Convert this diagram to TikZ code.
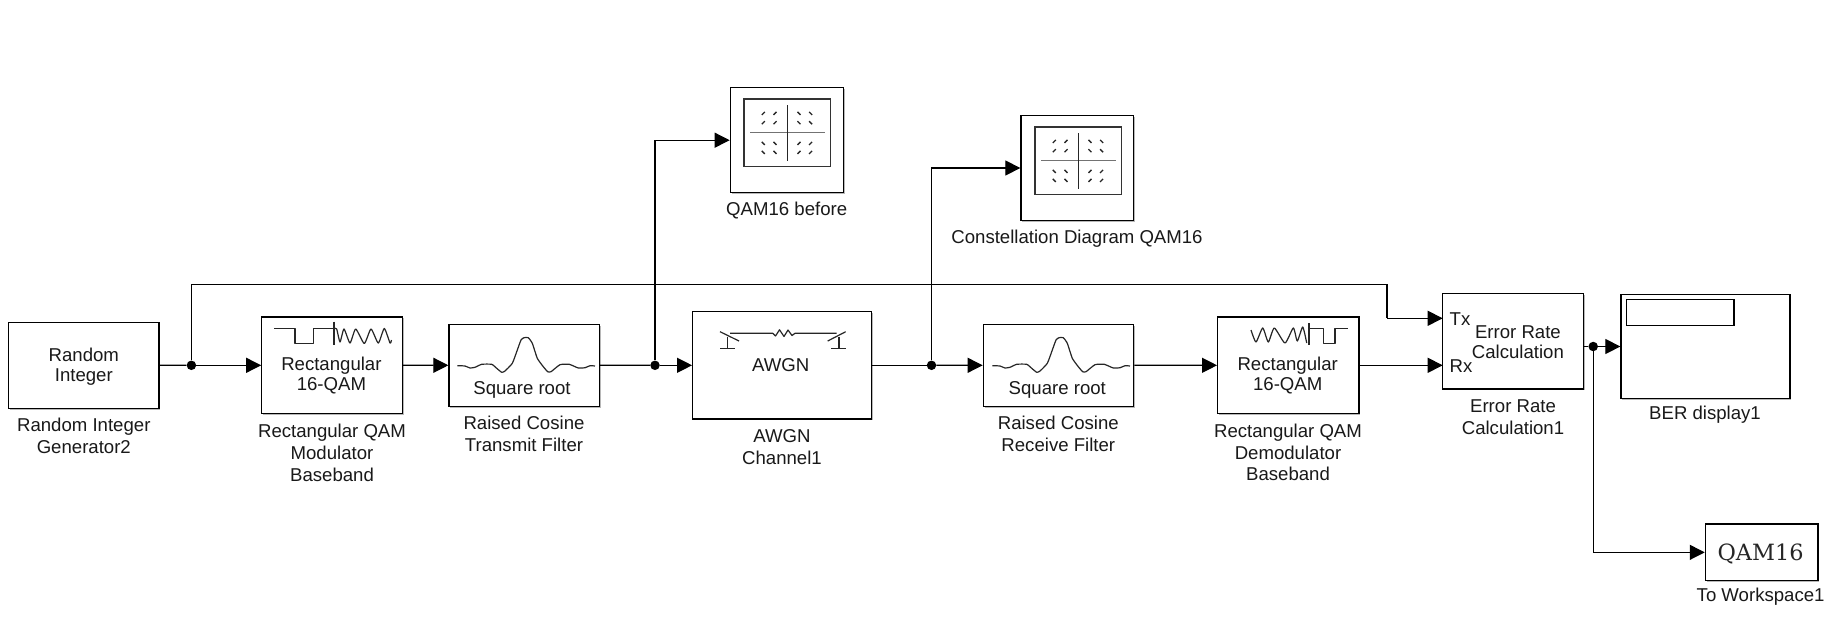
\documentclass[tikz,border=0pt]{standalone}
\usepackage{fontspec}
\setmainfont{Liberation Sans}
\newfontfamily\wsfont{DejaVu Serif}
\usetikzlibrary{arrows.meta,shadows}
\tikzset{
  blockbox/.style={draw=black,line width=1.3pt,fill=white,inner sep=0pt,
    drop shadow={shadow xshift=1.4pt,shadow yshift=-1.4pt,fill=black,opacity=0.28}},
  plainbox/.style={draw=black,line width=1.1pt,inner sep=0pt},
  txt/.style={inner sep=0pt,align=center,text=black!90,font=\fontsize{18.6}{21.8}\selectfont},
  intxt/.style={inner sep=0pt,align=center,text=black!90,font=\fontsize{18.6}{20}\selectfont},
  wire/.style={draw=black,line width=1.2pt},
  arr/.style={wire,-{Triangle[length=15pt,width=15pt]}},
  jdot/.style={circle,fill=black,inner sep=0pt,minimum size=9.5pt},
  icon/.style={draw=black!85,line width=1.2pt,line join=round},
  gridh/.style={draw=black!55,line width=1.5pt},
  gridv/.style={draw=black!85,line width=1.2pt},
  tick/.style={draw=black!85,line width=1.3pt}
}
\newcommand\blk[5]{%
  \pgfmathsetmacro\cxx{(#2+#4)/2}\pgfmathsetmacro\cyy{(#3+#5)/2}%
  \pgfmathsetmacro\bww{#4-#2}\pgfmathsetmacro\bhh{#5-#3}%
  \node[blockbox,minimum width=\bww pt,minimum height=\bhh pt] (#1) at (\cxx,\cyy) {};}
\newcommand\filterwave[1]{%
  \draw[icon,xshift=#1pt] plot[smooth,tension=0.3] coordinates {
  (-68.7,365.7)(-61,366)(-56,368)(-51,367.3)(-44.3,364.3)(-34.3,364.3)(-29.3,368.3)(-24.3,372.3)(-21,371)(-13.7,363.3)(-9.3,351.7)(-5,340)(-2,337.7)(2.3,337.7)(6.3,343.3)(11.3,358.3)(17.3,366.7)(21.7,371.7)(25,371.7)(34,364.7)(43.3,364.3)(52.3,368)(59,367.7)(64,365.7)(69,366)};}
\newcommand\scopeicon[2]{%
  \begin{scope}[shift={(#1,#2)}]
    \draw[draw=black!80,line width=1.1pt] (-43.3,-33.7) rectangle (43.4,33.9);
    \draw[gridh] (-37.3,0) -- (37.7,0);
    \draw[gridv] (0,-27.7) -- (0,28);
    \foreach \xx in {-24,-12.3}{\foreach \yy in {-19.3,-10}{\draw[tick] (\xx-1.5,\yy+1.5) -- (\xx+1.5,\yy-1.5);}}
    \foreach \xx in {11.7,23.3}{\foreach \yy in {10.7,19.7}{\draw[tick] (\xx-1.5,\yy+1.5) -- (\xx+1.5,\yy-1.5);}}
    \foreach \xx in {11.7,23.3}{\foreach \yy in {-19.3,-10}{\draw[tick] (\xx-1.5,\yy-1.5) -- (\xx+1.5,\yy+1.5);}}
    \foreach \xx in {-24,-12.3}{\foreach \yy in {10.7,19.7}{\draw[tick] (\xx-1.5,\yy-1.5) -- (\xx+1.5,\yy+1.5);}}
  \end{scope}}
\begin{document}
\begin{tikzpicture}[x=1pt,y=-1pt]
\useasboundingbox[fill=white] (0,0) rectangle (1831,627);

% blocks
\blk{ri}{8.7}{322.2}{159}{408.4}
\blk{mod}{261.8}{317}{402.5}{413.6}
\blk{txf}{449}{324.4}{599.4}{406.2}
\blk{awgn}{692.7}{311.6}{871.3}{419}
\blk{rxf}{983.3}{324.4}{1133.7}{406.2}
\blk{dem}{1217.7}{317}{1359}{413.6}
\blk{err}{1442.7}{293.7}{1583.5}{389}
\blk{ber}{1621}{294.7}{1790}{398.3}
\blk{ws}{1705.4}{524}{1818}{580.7}
\blk{sc1}{730.3}{87.7}{843.3}{192.7}
\blk{sc2}{1021}{115.3}{1133.7}{220.7}
\node[plainbox,minimum width=107.4pt,minimum height=26pt] (berd) at (1680.3,312.3) {};

% block texts
\node[intxt] (tri) at (83.8,366.3) {Random\\Integer};
\node[intxt] (tmod) at (331.4,375.8) {Rectangular\\16-QAM};
\node[intxt] (ttx) at (522,390.3) {Square root};
\node[intxt] (tawgn) at (780.7,365.3) {AWGN};
\node[intxt] (trx) at (1057.3,389.7) {Square root};
\node[intxt] (tdem) at (1287.7,375.3) {Rectangular\\16-QAM};
\node[intxt,anchor=west] (ttxp) at (1449.5,319.3) {Tx};
\node[intxt,anchor=west] (trxp) at (1449.5,366.5) {Rx};
\node[intxt] (terr) at (1517.9,341.7) {Error Rate\\Calculation};
\node[inner sep=0pt,text=black!85,font=\wsfont\fontsize{22.4}{24}\selectfont] (tws) at (1760.5,553.5) {QAM16};

% labels
\node[txt] (lri) at (83.8,435.8) {Random Integer\\Generator2};
\node[txt] (lmod) at (332,452.7) {Rectangular QAM\\Modulator\\Baseband};
\node[txt] (ltx) at (524,433.8) {Raised Cosine\\Transmit Filter};
\node[txt] (lawgn) at (782,447) {AWGN\\Channel1};
\node[txt] (lrx) at (1058.3,433.8) {Raised Cosine\\Receive Filter};
\node[txt] (ldem) at (1288,452.4) {Rectangular QAM\\Demodulator\\Baseband};
\node[txt] (lerr) at (1513,416.8) {Error Rate\\Calculation1};
\node[txt] (lber) at (1705,415) {BER display1};
\node[txt] (lws) at (1760.6,596.7) {To Workspace1};
\node[txt] (lsc1) at (786.7,210.2) {QAM16 before};
\node[txt] (lsc2) at (1077,238.5) {Constellation Diagram QAM16};

% junctions and ports
\node[jdot] (j1) at (191.4,365.3) {};
\node[jdot] (j2) at (655,365.3) {};
\node[jdot] (j3) at (931.5,365.3) {};
\node[jdot] (j4) at (1593.2,346.5) {};
\coordinate (ptx) at (1442.7,318.3);
\coordinate (prx) at (1442.7,365.3);
\coordinate (eout) at (1583.5,346.5);
\coordinate (tc1) at (191.4,284.7);
\coordinate (tc2) at (1387,284.7);
\coordinate (tc3) at (1387,318.3);

% connectors
\draw[wire] (ri.east) -- (j1);
\draw[arr] (j1) -- (mod.west);
\draw[arr] (mod.east) -- (txf.west);
\draw[wire] (txf.east) -- (j2);
\draw[arr] (j2) -- (awgn.west);
\draw[wire] (awgn.east) -- (j3);
\draw[arr] (j3) -- (rxf.west);
\draw[arr] (rxf.east) -- (dem.west);
\draw[arr] (dem.east) -- (prx);
\draw[wire] (j1) -- (tc1) -- (tc2) -- (tc3);
\draw[arr] (tc3) -- (ptx);
\draw[arr] (j2) |- (sc1.west);
\draw[arr] (j3) |- (sc2.west);
\draw[wire] (eout) -- (j4);
\draw[arr] (j4) -- (ber.west);
\draw[arr] (j4) |- (ws.west);

% modulator icon
\draw[icon] (274.3,328.3) -- (295,328.3) -- (295,343.3) -- (313.3,343.3) -- (313.3,328.3) -- (334,328.3);
\draw[icon] (334,321.7) -- (334,345);
\draw[icon] plot[smooth,tension=0.35] coordinates {(334,328.5)(336.7,329)(340,342)(344,329)(350,343)(355.7,329)(364.3,343.5)(371,329)(378.3,343)(384.3,328.5)(390,343)(391.5,340)};
% demodulator icon
\draw[icon] plot[smooth,tension=0.35] coordinates {(1251,330)(1256,342)(1262.7,328)(1268.3,342)(1274.3,328)(1285,343)(1293.3,328)(1297.3,341)(1302.7,327)(1306.7,343)};
\draw[icon] (1309,323) -- (1309,345);
\draw[icon] (1309,328.3) -- (1323.3,328.3) -- (1323.3,343.3) -- (1335,343.3) -- (1335,328.3) -- (1348.3,328.3);
% filter icons
\filterwave{526}
\filterwave{1061}
% AWGN icon
\draw[icon] (730,333.3) -- (772.7,333.3) -- (775.5,336) -- (779.5,329.8) -- (784,336.5) -- (788,330) -- (792,335.5) -- (795,333.3) -- (836.7,333.3);
\draw[icon] (720,331.7) -- (739,341);
\draw[icon] (727.7,336.7) -- (727.7,348.3);
\draw[icon] (720,348.3) -- (735,348.3);
\draw[icon] (845.7,331.7) -- (827.7,341);
\draw[icon] (839,336.7) -- (839,348.3);
\draw[icon] (831,348.3) -- (845.7,348.3);
% scope icons
\scopeicon{787.3}{132.7}
\scopeicon{1078.3}{160.7}
\end{tikzpicture}
\end{document}
